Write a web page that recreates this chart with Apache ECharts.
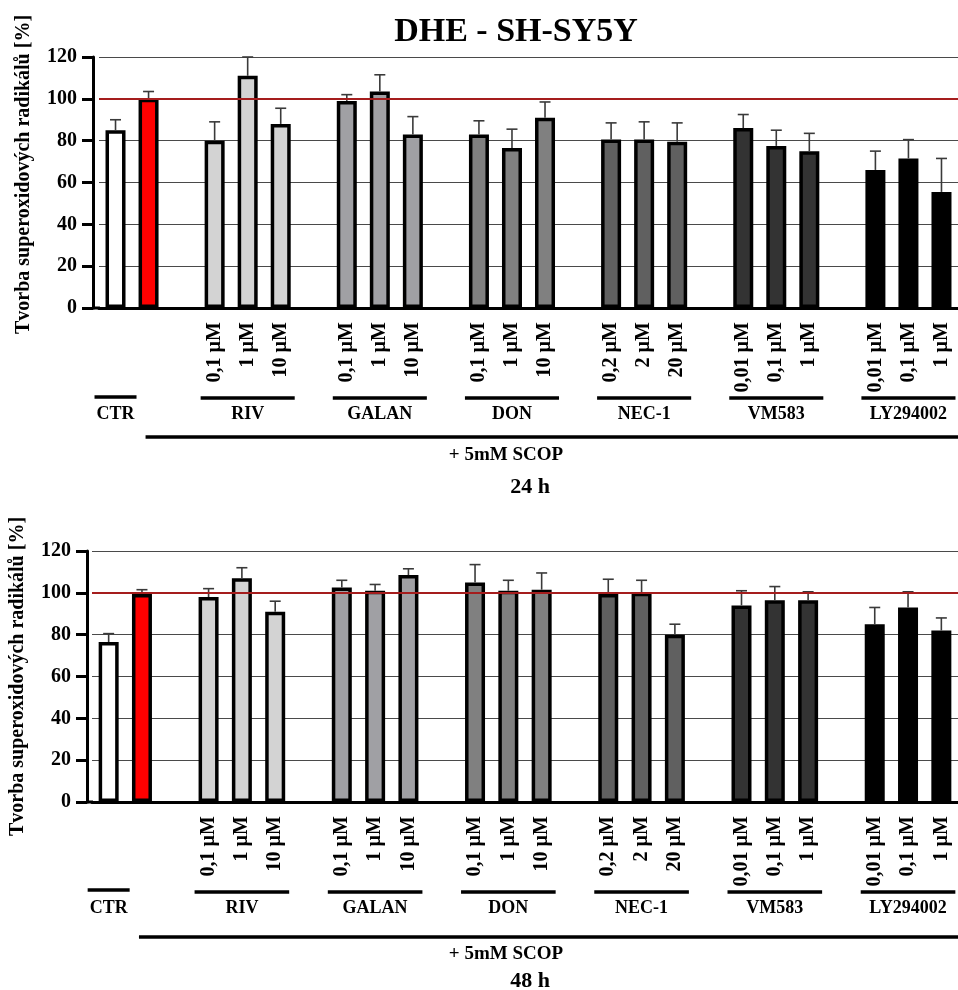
<!DOCTYPE html>
<html>
<head>
<meta charset="utf-8">
<title>DHE - SH-SY5Y</title>
<script src="https://cdn.jsdelivr.net/npm/echarts@6/dist/echarts.min.js"></script>
<style>
    html, body { margin: 0; padding: 0; background: #fff; }
    #chart { width: 958px; height: 990px; }
</style>
</head>
<body>
<div id="chart"></div>
<script>
'use strict';

// slots on the x axis (gaps between treatment groups included)
var categories = ['CTR', 'SCOP', 'gap1',
    'RIV 0,1', 'RIV 1', 'RIV 10', 'gap2',
    'GALAN 0,1', 'GALAN 1', 'GALAN 10', 'gap3',
    'DON 0,1', 'DON 1', 'DON 10', 'gap4',
    'NEC 0,2', 'NEC 2', 'NEC 20', 'gap5',
    'VM 0,01', 'VM 0,1', 'VM 1', 'gap6',
    'LY 0,01', 'LY 0,1', 'LY 1'];
var doseLabels = ['', '', '',
    '0,1 µM', '1 µM', '10 µM', '',
    '0,1 µM', '1 µM', '10 µM', '',
    '0,1 µM', '1 µM', '10 µM', '',
    '0,2 µM', '2 µM', '20 µM', '',
    '0,01 µM', '0,1 µM', '1 µM', '',
    '0,01 µM', '0,1 µM', '1 µM'];

var mean24 = [85, 100, null, 80, 111, 88, null, 99, 103.5, 83, null, 83, 76.5, 91, null,
    80.5, 80.5, 79.5, null, 86, 77.5, 75, null, 66, 71.5, 55.5];
var err24 = [5, 3.5, null, 9, 9, 7.5, null, 3, 8, 8.5, null, 6.5, 9, 7.5, null,
    8, 8.5, 9, null, 6.5, 7.5, 8.5, null, 9, 9, 16];

var mean48 = [76.5, 99.5, null, 98, 107, 91, null, 102.5, 101, 108.5, null, 105, 101, 101.5, null,
    99.5, 100, 80, null, 94, 96.5, 96.5, null, 85, 93, 82];
var err48 = [4, 2, null, 4, 5, 5, null, 3.5, 3, 3, null, 8.5, 5, 8, null,
    7, 6, 5, null, 7, 6.5, 4, null, 8, 7.5, 6];

var groupNames = ['CTR', 'RIV', 'GALAN', 'DON', 'NEC-1', 'VM583', 'LY294002'];
var groupFirst = [0, 3, 7, 11, 15, 19, 23];
var groupLast = [0, 5, 9, 13, 17, 21, 25];
var refLevel = 100;
var yTicks = [0, 120, 20]; // min, max, step

// styles
var groupColors = ['#ffffff', '#d3d3d3', '#a0a0a4', '#808080', '#606060', '#333333', '#000000'];
var scopColor = '#ff0000';
var serif = '"Liberation Serif", "Times New Roman", serif';

function colorFor(i) {
    if (i === 1) {
        return scopColor;
    }
    for (var g = 0; g < groupFirst.length; g++) {
        if (i >= groupFirst[g] && i <= groupLast[g]) {
            return groupColors[g];
        }
    }
    return null;
}

function barData(values) {
    return values.map(function(v, i) {
        if (v === null) {
            return '-';
        }
        return { value: v, itemStyle: { color: colorFor(i) } };
    });
}

function errData(values, errs) {
    var out = [];
    for (var i = 0; i < values.length; i++) {
        if (values[i] !== null) {
            out.push([i, values[i], errs[i]]);
        }
    }
    return out;
}

function renderErr(params, api) {
    var base = api.coord([api.value(0), api.value(1)]);
    var top = api.coord([api.value(0), api.value(1) + api.value(2)]);
    var style = { stroke: '#3a3a3a', lineWidth: 1.6 };
    return {
        type: 'group',
        children: [
            { type: 'line', shape: { x1: base[0], y1: base[1], x2: top[0], y2: top[1] }, style: style },
            { type: 'line', shape: { x1: top[0] - 5.5, y1: top[1], x2: top[0] + 5.5, y2: top[1] }, style: style }
        ]
    };
}

function xAxisFor(gridIndex) {
    return {
        type: 'category',
        gridIndex: gridIndex,
        data: categories,
        axisLine: { lineStyle: { color: '#000', width: 3 } },
        axisTick: { alignWithLabel: true, interval: 0, length: 10, lineStyle: { color: '#000', width: 3 } },
        axisLabel: {
            interval: 0,
            rotate: 90,
            margin: 14,
            color: '#000',
            fontFamily: serif,
            fontWeight: 'bold',
            fontSize: 20,
            formatter: function(v, i) { return doseLabels[i]; }
        }
    };
}

function yAxisFor(gridIndex, offset, namePad) {
    return {
        type: 'value',
        gridIndex: gridIndex,
        min: yTicks[0],
        max: yTicks[1],
        interval: yTicks[2],
        offset: offset,
        name: 'Tvorba superoxidových radikálů [%]',
        nameLocation: 'middle',
        nameGap: 59,
        nameTextStyle: { color: '#000', fontFamily: serif, fontWeight: 'bold', fontSize: 20, padding: namePad },
        axisLine: { show: true, lineStyle: { color: '#000', width: 3 } },
        axisTick: { show: true, length: 11, lineStyle: { color: '#000', width: 3 } },
        axisLabel: { margin: 16, color: '#000', fontFamily: serif, fontWeight: 'bold', fontSize: 20 },
        splitLine: { show: true, lineStyle: { color: '#4a4a4a', width: 1.2 } }
    };
}

function barSeries(idx, values) {
    return {
        type: 'bar',
        xAxisIndex: idx,
        yAxisIndex: idx,
        barWidth: 20,
        data: barData(values),
        itemStyle: { borderColor: '#000', borderWidth: 3.5 },
        markLine: {
            silent: true,
            symbol: 'none',
            label: { show: false },
            lineStyle: { color: '#a51d1d', width: 2.2, type: 'solid' },
            data: [{ yAxis: refLevel }]
        }
    };
}

function errSeries(idx, values, errs) {
    return {
        type: 'custom',
        xAxisIndex: idx,
        yAxisIndex: idx,
        z: 4,
        renderItem: renderErr,
        data: errData(values, errs)
    };
}

var chart = echarts.init(document.getElementById('chart'));
chart.setOption({
    animation: false,
    backgroundColor: '#fff',
    title: {
        text: 'DHE - SH-SY5Y',
        left: 511,
        top: 10,
        textAlign: 'center',
        textStyle: { fontFamily: serif, fontWeight: 'bold', fontSize: 34, color: '#000' }
    },
    grid: [
        { left: 99, top: 57, width: 861, height: 251 },
        { left: 92, top: 551, width: 867, height: 251 }
    ],
    xAxis: [xAxisFor(0), xAxisFor(1)],
    yAxis: [yAxisFor(0, 6, [0, 0, 0, 16]), yAxisFor(1, 5, 0)],
    series: [
        barSeries(0, mean24),
        errSeries(0, mean24, err24),
        barSeries(1, mean48),
        errSeries(1, mean48, err48)
    ]
});

// group brackets, treatment lines and captions under each panel
function annotations(k, axisY, yAxisX, caption, ctrDy, scopDy, scopTextDy) {
    var els = [];
    var lineStyle = { stroke: '#000', lineWidth: 3.5 };
    var textFont = 'bold 18px ' + serif;
    function px(i) { return chart.convertToPixel({ xAxisIndex: k }, categories[i]); }
    var gridLeft = chart.convertToPixel({ xAxisIndex: k }, categories[0]) - 16.6;
    els.push({ type: 'line', shape: { x1: yAxisX, y1: axisY, x2: gridLeft + 1, y2: axisY }, style: { stroke: '#000', lineWidth: 3 } });
    for (var g = 0; g < groupNames.length; g++) {
        var a = px(groupFirst[g]);
        var b = px(groupLast[g]);
        var half = g === 0 ? 21 : 14;
        var ly = axisY + (g === 0 ? ctrDy : 90);
        els.push({ type: 'line', shape: { x1: a - half, y1: ly, x2: b + half, y2: ly }, style: lineStyle });
        els.push({ type: 'text', style: { text: groupNames[g], x: (a + b) / 2, y: axisY + 106, align: 'center', verticalAlign: 'middle', font: textFont, fill: '#000' } });
    }
    var s = px(1);
    els.push({ type: 'line', shape: { x1: s - 3, y1: axisY + scopDy, x2: 958, y2: axisY + scopDy }, style: lineStyle });
    els.push({ type: 'text', style: { text: '+ 5mM SCOP', x: 506, y: axisY + scopTextDy, align: 'center', verticalAlign: 'middle', font: 'bold 19px ' + serif, fill: '#000' } });
    els.push({ type: 'text', style: { text: caption, x: 530, y: axisY + 179, align: 'center', verticalAlign: 'middle', font: 'bold 22px ' + serif, fill: '#000' } });
    return els;
}

chart.setOption({
    graphic: annotations(0, 308, 93, '24 h', 89, 129, 147).concat(annotations(1, 802, 87, '48 h', 88, 135, 152))
});
</script>
</body>
</html>
